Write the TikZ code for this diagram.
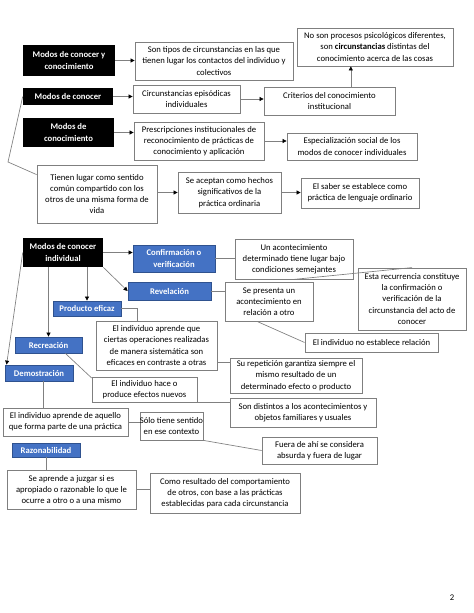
\documentclass[tikz,border=0pt]{standalone}
\usepackage{fontspec}
\setmainfont{Carlito}
\usetikzlibrary{arrows.meta}
\definecolor{bfill}{HTML}{4472C4}
\definecolor{bdraw}{HTML}{2F528F}
\definecolor{gbord}{HTML}{7F7F7F}
\definecolor{lcol}{HTML}{808080}
\newcommand\bx[7]{%
 \pgfmathsetmacro\bxw{(#5-#3)*0.75}%
 \pgfmathsetmacro\bxh{(#6-#4)*0.75}%
 \pgfmathsetmacro\bxcx{(#3+#5)/2}%
 \pgfmathsetmacro\bxcy{(#4+#6)/2}%
 \node[#2, minimum width=\bxw pt, minimum height=\bxh pt] (#1) at (\bxcx,\bxcy) {#7};}
\begin{document}
\begin{tikzpicture}[x=0.75pt,y=-0.75pt,
 base/.style={inner sep=0pt, align=center, font=\fontsize{6.5}{8.4}\selectfont},
 wbox/.style={base, draw=gbord, line width=0.6pt, fill=white, text=black},
 kbox/.style={base, fill=black, text=white, font=\fontsize{6.5}{8.4}\selectfont\bfseries},
 bbox/.style={base, fill=bfill, draw=bdraw, line width=0.6pt, text=white, font=\fontsize{6.5}{8.4}\selectfont\bfseries},
 conn/.style={draw=lcol, line width=0.5pt},
 arr/.style={conn, -{Triangle[length=3pt,width=3pt,color=black]}}]
\useasboundingbox[fill=white] (0,0) rectangle (474,613);

% ---- top section ----
\bx{myc}{kbox}{23}{45}{115}{76}{Modos de conocer y\\conocimiento}
\bx{sontipos}{wbox}{135}{42}{293}{80}{Son tipos de circunstancias en las que\\tienen lugar los contactos del individuo y\\colectivos}
\bx{noson}{wbox}{297}{28}{453}{66}{No son procesos psicológicos diferentes,\\son \textbf{circunstancias} distintas del\\conocimiento acerca de las cosas}
\bx{mc}{kbox}{23}{88}{113}{105}{Modos de conocer}
\bx{circ}{wbox}{133}{85}{240}{113}{Circunstancias episódicas\\individuales}
\bx{crit}{wbox}{264}{87}{395}{115}{Criterios del conocimiento\\institucional}
\bx{mck}{kbox}{23}{118}{114}{147}{Modos de\\conocimiento}
\bx{pres}{wbox}{134}{122}{264}{160}{Prescripciones institucionales de\\reconocimiento de prácticas de\\conocimiento y aplicación}
\bx{esp}{wbox}{287}{133}{417}{160}{Especialización social de los\\modos de conocer individuales}
\bx{tienen}{wbox}{37}{165}{157}{223}{Tienen lugar como sentido\\común compartido con los\\otros de una misma forma de\\vida}
\bx{seacep}{wbox}{178}{172}{281}{213}{Se aceptan como hechos\\significativos de la\\práctica ordinaria}
\bx{saber}{wbox}{301}{178}{419}{208}{El saber se establece como\\práctica de lenguaje ordinario}
\coordinate (bend1) at (8,162);

\draw[arr] (myc.east) -- (myc.east -| sontipos.west);
\draw[arr] (mc.east) -- (mc.east -| circ.west);
\draw[arr] (circ.east) -- (circ.east -| crit.west);
\draw[arr] ([xshift=16pt]crit.north) -- ([xshift=16pt]crit.north |- noson.south);
\draw[arr] (mck.east) -- (mck.east -| pres.west);
\draw[arr] (pres.east) -- (pres.east -| esp.west);
\draw[arr] (seacep.west -| tienen.east) -- (seacep.west);
\draw[arr] (seacep.east) -- (seacep.east -| saber.west);
\draw[conn] (mc.west) -- (bend1) -- ([yshift=-7.5pt]tienen.north west);

% ---- bottom section ----
\bx{mci}{kbox}{23}{238}{103}{267}{Modos de conocer\\individual}
\bx{conf}{bbox}{133}{245}{215}{272}{Confirmación o\\verificación}
\bx{rev}{bbox}{128}{282}{211}{300}{Revelación}
\bx{prod}{bbox}{53}{301}{121}{316}{Producto eficaz}
\bx{rec}{bbox}{15}{337}{82}{353}{Recreación}
\bx{dem}{bbox}{5}{365}{73}{381}{Demostración}
\bx{raz}{bbox}{12}{443}{80}{457}{Razonabilidad}
\bx{unacont}{wbox}{235}{239}{353}{279}{Un acontecimiento\\determinado tiene lugar bajo\\condiciones semejantes}
\bx{esta}{wbox}{358}{268}{466}{330}{Esta recurrencia constituye\\la confirmación o\\verificación de la\\circunstancia del acto de\\conocer}
\bx{sepres}{wbox}{225}{282}{313}{321}{Se presenta un\\acontecimiento en\\relación a otro}
\bx{indnoe}{wbox}{305}{333}{438}{352}{El individuo no establece relación}
\bx{aprende}{wbox}{96}{321}{217}{370}{El individuo aprende que\\ciertas operaciones realizadas\\de manera sistemática son\\eficaces en contraste a otras}
\bx{surep}{wbox}{230}{358}{362}{393}{Su repetición garantiza siempre el\\mismo resultado de un\\determinado efecto o producto}
\bx{hace}{wbox}{92}{377}{197}{402}{El individuo hace o\\produce efectos nuevos}
\bx{sondist}{wbox}{230}{398}{376}{427}{Son distintos a los acontecimientos y\\objetos familiares y usuales}
\bx{apr2}{wbox}{3}{408}{128}{436}{El individuo aprende de aquello\\que forma parte de una práctica}
\bx{solo}{wbox}{140}{412}{203}{440}{Sólo tiene sentido\\en ese contexto}
\bx{fuera}{wbox}{262}{437}{377}{464}{Fuera de ahí se considera\\absurda y fuera de lugar}
\bx{sea}{wbox}{7}{470}{136}{509}{Se aprende a juzgar si es\\apropiado o razonable lo que le\\ocurre a otro o a una mismo}
\bx{como}{wbox}{150}{473}{300}{513}{Como resultado del comportamiento\\de otros, con base a las prácticas\\establecidas para cada circunstancia}

\draw[arr] (mci.east) -- (mci.east -| conf.west);
\draw[arr] (mci.south east) -- (rev.west);
\draw[arr] (mci.south -| prod.north) -- (prod.north);
\draw[arr] (rec.north |- mci.south) -- (rec.north);
\draw[arr] (mci.west) -- ([xshift=1.5pt]dem.north west);
\draw[conn] (conf.east) -- (conf.east -| unacont.west);
\draw[conn] (unacont.south) -- (esta.north);
\draw[conn] (rev.east) -- (rev.east -| sepres.west);
\draw[conn] ([xshift=-9pt]sepres.south) -- (indnoe.west);
\draw[conn] (prod.east) -| ([xshift=-14.6pt]aprende.north);
\draw[conn] ([yshift=-12.4pt]aprende.east) -- ([yshift=-12.4pt]aprende.east -| surep.west);
\draw[conn] ([xshift=-12.75pt]rec.south east) -- ([yshift=-1pt]hace.north west);
\draw[conn] (hace.south east) -- (hace.south east -| sondist.west);
\draw[conn] ([xshift=3pt]dem.south) -- ([xshift=3pt]dem.south |- apr2.north);
\draw[conn] (apr2.east) -- (apr2.east -| solo.west);
\draw[conn] (solo.south east) -- (fuera.west);
\draw[conn] (raz.south) -- (raz.south |- sea.north);
\draw[conn] (sea.east) -- (sea.east -| como.west);

\node[base] (pagenum) at (452,598) {2};
\end{tikzpicture}
\end{document}
